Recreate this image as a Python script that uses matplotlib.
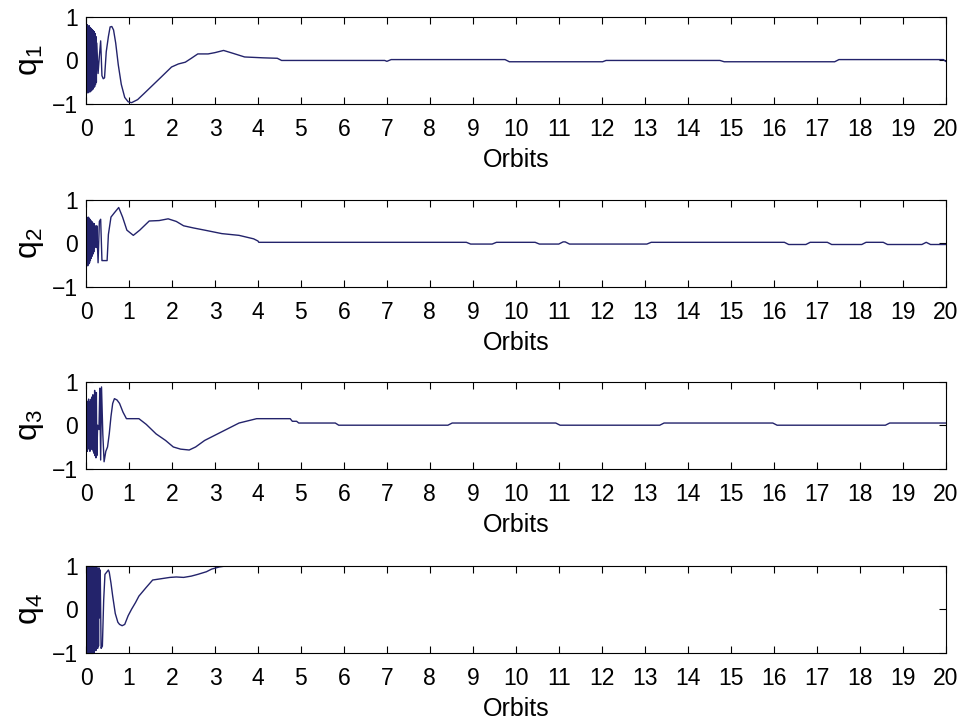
import numpy as np
import matplotlib
matplotlib.use("Agg")
import matplotlib.pyplot as plt

matplotlib.rcParams.update({'font.size': 16.5, 'font.family': ['Liberation Sans', 'DejaVu Sans'],
                            'mathtext.fontset': 'custom', 'mathtext.rm': 'Liberation Sans',
                            'mathtext.it': 'Liberation Sans'})

# time samples (orbits) and quaternion components
q1_t = [0.00, 0.01, 0.02, 0.03, 0.04, 0.05, 0.06, 0.07, 0.08, 0.09, 0.10, 0.11, 0.12,
        0.13, 0.14, 0.15, 0.16, 0.17, 0.18, 0.19, 0.20, 0.21, 0.22, 0.23, 0.24, 0.25,
        0.28, 0.31, 0.34, 0.37, 0.40, 0.43, 0.47, 0.52, 0.56, 0.60, 0.64, 0.69, 0.75,
        0.82, 0.90, 0.98, 1.06, 1.20, 1.35, 1.55, 1.75, 1.99, 2.15, 2.31, 2.45, 2.60,
        2.84, 3.00, 3.20, 3.40, 3.69, 4.13, 4.45, 4.55, 6.95, 7.00, 7.10, 9.75, 9.85,
        12.02, 12.10, 14.75, 14.85, 17.42, 17.52, 19.95, 20.00]
q1_v = [0.00, 0.80, -0.75, 0.82, -0.72, 0.78, -0.74, 0.80, -0.70, 0.76, -0.72, 0.74,
        -0.70, 0.72, -0.68, 0.70, -0.66, 0.68, -0.62, 0.66, -0.60, 0.62, -0.55, 0.55,
        -0.50, 0.40, -0.30, 0.10, 0.45, -0.35, -0.42, -0.40, 0.20, 0.55, 0.77, 0.78,
        0.70, 0.40, -0.10, -0.55, -0.85, -0.95, -0.97, -0.90, -0.76, -0.57, -0.38, -0.15,
        -0.08, -0.04, 0.05, 0.15, 0.15, 0.18, 0.23, 0.17, 0.08, 0.06, 0.05, 0.00, 0.00,
        -0.02, 0.02, 0.02, -0.03, -0.03, 0.00, 0.00, -0.03, -0.03, 0.02, 0.02, -0.02]

q2_t = [0.00, 0.01, 0.02, 0.03, 0.04, 0.05, 0.06, 0.07, 0.08, 0.09, 0.10, 0.11, 0.12,
        0.13, 0.14, 0.15, 0.16, 0.17, 0.18, 0.19, 0.20, 0.21, 0.22, 0.23, 0.24, 0.25,
        0.28, 0.31, 0.34, 0.37, 0.39, 0.45, 0.49, 0.52, 0.58, 0.66, 0.76, 0.85, 0.95,
        1.10, 1.25, 1.47, 1.70, 1.91, 2.10, 2.27, 2.50, 2.76, 3.16, 3.56, 3.90, 4.00,
        4.02, 8.85, 8.95, 9.45, 9.55, 10.45, 10.55, 11.00, 11.10, 11.15, 11.25, 13.05,
        13.15, 16.25, 16.35, 16.75, 16.85, 17.25, 17.35, 18.05, 18.15, 18.55, 18.65,
        19.45, 19.55, 19.65, 20.00]
q2_v = [-0.55, 0.60, -0.50, 0.58, -0.52, 0.60, -0.48, 0.58, -0.45, 0.55, -0.40, 0.52,
        -0.35, 0.50, -0.30, 0.48, -0.25, 0.45, -0.20, 0.45, -0.10, 0.40, 0.00, 0.30,
        -0.10, 0.40, -0.45, 0.50, 0.55, -0.40, -0.40, -0.40, -0.40, 0.20, 0.60, 0.70,
        0.82, 0.60, 0.30, 0.18, 0.30, 0.51, 0.52, 0.56, 0.50, 0.40, 0.35, 0.30, 0.22,
        0.18, 0.10, 0.05, 0.02, 0.02, -0.02, -0.02, 0.02, 0.02, -0.02, -0.02, 0.03,
        0.03, -0.02, -0.02, 0.02, 0.02, -0.03, -0.03, 0.02, 0.02, -0.03, -0.03, 0.02,
        0.02, -0.03, -0.03, 0.02, -0.03, -0.03]

q3_t = [0.00, 0.01, 0.02, 0.03, 0.04, 0.05, 0.06, 0.07, 0.08, 0.09, 0.10, 0.11, 0.12,
        0.13, 0.14, 0.15, 0.16, 0.17, 0.18, 0.19, 0.20, 0.21, 0.22, 0.23, 0.24, 0.25,
        0.27, 0.30, 0.32, 0.34, 0.36, 0.39, 0.42, 0.46, 0.50, 0.54, 0.58, 0.62, 0.66,
        0.72, 0.78, 0.86, 0.94, 1.23, 1.40, 1.63, 1.85, 2.03, 2.20, 2.40, 2.55, 2.76,
        3.16, 3.56, 3.97, 4.75, 4.80, 4.90, 4.95, 5.80, 5.88, 8.42, 8.52, 10.93, 11.03,
        13.35, 13.45, 15.98, 16.08, 18.60, 18.70, 20.00]
q3_v = [0.60, -0.55, 0.50, -0.60, 0.55, -0.50, 0.60, -0.55, 0.50, -0.60, 0.55, -0.45,
        0.60, -0.55, 0.65, -0.55, 0.70, -0.60, 0.55, -0.65, 0.80, -0.70, 0.10, -0.75,
        0.75, -0.70, 0.00, -0.10, 0.85, -0.80, 0.88, -0.20, -0.84, -0.60, -0.50, -0.20,
        0.20, 0.50, 0.61, 0.58, 0.50, 0.30, 0.15, 0.15, 0.02, -0.20, -0.35, -0.50,
        -0.55, -0.57, -0.50, -0.35, -0.15, 0.05, 0.15, 0.15, 0.09, 0.09, 0.05, 0.05,
        0.00, 0.00, 0.05, 0.05, 0.00, 0.00, 0.05, 0.05, 0.00, 0.00, 0.05, 0.05]

q4_t = [0.00, 0.01, 0.02, 0.03, 0.04, 0.05, 0.06, 0.07, 0.08, 0.09, 0.10, 0.11, 0.12,
        0.13, 0.14, 0.15, 0.16, 0.17, 0.18, 0.19, 0.20, 0.21, 0.22, 0.23, 0.24, 0.25,
        0.26, 0.27, 0.28, 0.29, 0.30, 0.31, 0.33, 0.35, 0.38, 0.41, 0.44, 0.48, 0.52,
        0.54, 0.58, 0.62, 0.68, 0.74, 0.78, 0.84, 0.90, 0.98, 1.06, 1.15, 1.23, 1.40,
        1.55, 1.75, 1.95, 2.10, 2.27, 2.45, 2.60, 2.80, 2.92, 3.10, 3.30, 20.00]
q4_v = [1.00, -1.00, 1.00, -1.00, 1.00, -1.00, 1.00, -1.00, 1.00, -1.00, 1.00, -1.00,
        1.00, -1.00, 1.00, -1.00, 1.00, -1.00, 1.00, -1.00, 1.00, -0.95, 0.95, -0.95,
        0.95, -0.90, 0.95, -0.90, 0.90, -0.85, 0.95, -0.20, 0.90, -0.90, -0.85, 0.20,
        0.80, 0.85, 0.90, 0.85, 0.60, 0.30, -0.10, -0.30, -0.35, -0.38, -0.35, -0.15,
        0.00, 0.15, 0.30, 0.50, 0.67, 0.70, 0.73, 0.74, 0.73, 0.76, 0.80, 0.86, 0.92,
        0.97, 1.00, 1.00]

series = [(q1_t, q1_v, 'q$_1$'), (q2_t, q2_v, 'q$_2$'),
          (q3_t, q3_v, 'q$_3$'), (q4_t, q4_v, 'q$_4$')]

fig = plt.figure(figsize=(9.69, 7.24), dpi=100)
bottoms = [0.8564, 0.604, 0.3526, 0.0985]  # panel positions

for i in range(4):
    ax = fig.add_axes([0.0888, bottoms[i], 0.887, 0.1202])
    t, v, name = series[i]
    ax.plot(t, v, color='#23236b', linewidth=1.0)
    ax.set_xlim(0, 20)
    ax.set_ylim(-1, 1)
    ax.set_xticks(np.arange(0, 21, 1))
    ax.set_yticks([-1, 0, 1])
    ax.tick_params(direction='in', top=True, right=True, length=5, width=0.8)
    ax.tick_params(axis='x', pad=10)
    ax.tick_params(axis='y', pad=6)
    for s in ax.spines.values():
        s.set_linewidth(0.8)
    ax.set_ylabel(name, fontsize=23, labelpad=4)
    ax.set_xlabel('Orbits', fontsize=18, labelpad=5)

fig.savefig('out.png', dpi=100)
